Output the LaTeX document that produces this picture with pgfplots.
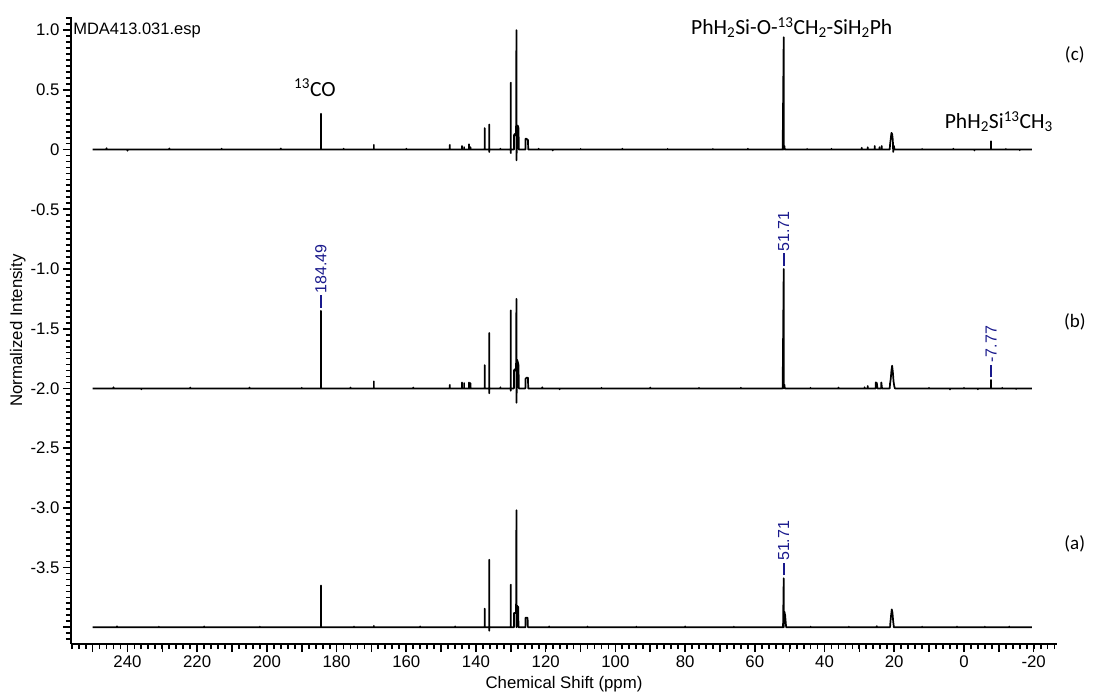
\documentclass[border=0pt]{standalone}
\usepackage{fontspec}
\setmainfont{Liberation Sans}
\newfontfamily\carlito{Carlito}
\usepackage{pgfplots}
\pgfplotsset{compat=1.18}
\usepackage{pgfplotstable}
\definecolor{labblue}{RGB}{25,25,140}

% spectrum (c), heights relative to its own baseline
\pgfplotstableread{
x y
250 0
246 0
246 0.012
246 0
240 0
240 -0.01
240 0
228 0
228 0.01
228 0
213 0
213 0.008
213 0
196 0
196 0.01
196 0
184.49 0
184.49 0.30
184.49 0
178 0
178 0.008
178 0
169.3 0
169.3 0.04
169.3 0
160 0
160 0.008
160 0
147.5 0
147.5 0.04
147.5 0
144.0 0
144.0 0.03
144.0 0
143.4 0
143.4 0.02
143.4 0
142.0 0
142.0 0.045
142.0 0
141.6 0
141.6 0.02
141.6 0
137.5 0
137.5 0.18
137.5 0
136.2 0
136.2 0.21
136.2 -0.02
136.2 0
133 0
133 0.008
133 0
130.0 0
130.0 0.56
130.0 -0.03
130.0 0
129.1 0
129.1 0.12
128.9 0.13
128.7 0.12
128.5 0.12
128.4 1.0
128.4 -0.09
128.3 0
128.2 0.20
128.0 0.20
127.8 0.18
127.7 0
125.8 0
125.8 0.09
125.5 0.09
125.1 0.08
125.0 0
122 0
122 0.008
122 0
118 0
118 -0.008
118 0
110 0
110 0.006
110 0
98 0
98 0.008
98 0
85 0
85 0.006
85 0
72 0
72 0.006
72 0
62 0
62 0.008
62 0
52.0 0
52.0 0.03
51.71 0.94
51.71 0
51.5 0.03
51.4 0
45 0
45 0.006
45 0
38 0
38 0.008
38 0
29.3 0
29.3 0.015
29.3 0
27.6 0
27.6 0.02
27.6 0
25.6 0
25.6 0.03
25.6 0
24.2 0
24.2 0.02
24.2 0
23.6 0
23.6 0.03
23.6 0
21.3 0
21.2 0.04
21.0 0.09
20.8 0.14
20.6 0.13
20.4 0.08
20.3 -0.02
20.1 0.03
19.9 0
12 0
12 0.006
12 0
3 0
3 0.008
3 0
-3 0
-3 -0.008
-3 0
-7.77 0
-7.77 0.07
-7.77 0
-12 0
-12 0.006
-12 0
-16 0
-16 -0.006
-16 0
-19.5 0
}\specc

% spectrum (b)
\pgfplotstableread{
x y
250 0
244 0
244 0.01
244 0
236 0
236 -0.008
236 0
222 0
222 0.008
222 0
205 0
205 0.008
205 0
190 0
190 0.006
190 0
184.49 0
184.49 0.65
184.49 0
176 0
176 0.008
176 0
169.3 0
169.3 0.06
169.3 0
158 0
158 0.008
158 0
147.5 0
147.5 0.03
147.5 0
144.0 0
144.0 0.05
144.0 0
143.4 0
143.4 0.045
143.4 0
142.0 0
142.0 0.05
142.0 0
141.6 0
141.6 0.045
141.6 0
137.5 0
137.5 0.195
137.5 0
136.2 0
136.2 0.465
136.2 -0.04
136.2 0
133 0
133 0.01
133 0
130.0 0
130.0 0.654
130.0 -0.02
130.0 0
129.1 0
129.1 0.15
128.9 0.16
128.7 0.15
128.5 0.16
128.4 0.75
128.4 -0.12
128.3 0
128.2 0.24
128.0 0.22
127.8 0.195
127.7 0
125.8 0
125.8 0.08
125.5 0.09
125.1 0.09
125.0 0
121 0
121 0.01
121 0
116 0
116 -0.008
116 0
104 0
104 0.006
104 0
90 0
90 0.008
90 0
76 0
76 0.006
76 0
64 0
64 0.006
64 0
52.0 0
52.0 0.04
51.71 1.0
51.71 0
51.5 0.03
51.4 0
44 0
44 0.006
44 0
36 0
36 0.008
36 0
28.5 0
28.5 0.01
28.5 0
27.6 0
27.6 0.02
27.6 0
25.3 0
25.3 0.05
25.0 0.045
24.8 0
23.7 0
23.7 0.05
23.5 0
21.3 0
21.2 0.04
21.0 0.08
20.8 0.15
20.6 0.19
20.4 0.14
20.2 0.06
20.0 0.02
19.8 0
10 0
10 0.006
10 0
4 0
4 -0.01
4 0
0 0
0 0.006
0 0
-4 0
-4 -0.008
-4 0
-7.77 0
-7.77 0.07
-7.77 0
-11 0
-11 0.006
-11 0
-15 0
-15 -0.006
-15 0
-19.5 0
}\specb

% spectrum (a)
\pgfplotstableread{
x y
250 0
243 0
243 0.008
243 0
231 0
231 0.006
231 0
218 0
218 0.008
218 0
202 0
202 0.006
202 0
184.49 0
184.49 0.35
184.49 0
175 0
175 0.006
175 0
169.3 0
169.3 0.012
169.3 0
156 0
156 0.008
156 0
146 0
146 0.008
146 0
137.5 0
137.5 0.156
137.5 0
136.2 0
136.2 0.565
136.2 -0.03
136.2 0
130.0 0
130.0 0.357
130.0 0
129.1 0
129.1 0.12
128.8 0.12
128.5 0.12
128.4 0.98
128.4 0
128.2 0.18
127.9 0.17
127.8 0
125.8 0
125.8 0.08
125.2 0.08
125.1 0
119 0
119 0.008
119 0
108 0
108 0.006
108 0
94 0
94 0.006
94 0
80 0
80 0.008
80 0
66 0
66 0.006
66 0
51.9 0
51.71 0.41
51.71 0
51.5 0.13
51.3 0.10
51.1 0.03
51.0 0
44 0
44 0.006
44 0
33 0
33 0.006
33 0
25 0
25 0.01
25 0
21.2 0
21.1 0.04
20.9 0.10
20.7 0.15
20.5 0.12
20.3 0.05
20.1 0
12 0
12 0.006
12 0
2 0
2 0.006
2 0
-6 0
-6 0.006
-6 0
-13 0
-13 0.006
-13 0
-19.5 0
}\speca

\begin{document}
\begin{tikzpicture}
\useasboundingbox (0,0) rectangle (1095bp,693bp);
\begin{axis}[
  at={(71bp,49bp)}, anchor=south west,
  scale only axis, width=986bp, height=627bp,
  x dir=reverse,
  xmin=-26.7, xmax=256.2, ymin=-4.14, ymax=1.11,
  axis x line*=bottom, axis y line*=left,
  axis line style={line width=1.8bp, black},
  clip=false,
  tick align=outside,
  major tick length=8bp, minor tick length=5bp,
  major tick style={line width=1.6bp, black},
  minor tick style={line width=1.8bp, black},
  xtick={-20,0,20,40,60,80,100,120,140,160,180,200,220,240},
  xticklabels={-20,0,20,40,60,80,100,120,140,160,180,200,220,240},
  extra x ticks={-10,10,30,50,70,90,110,130,150,170,190,210,230,250},
  extra x tick labels={},
  extra x tick style={major tick style={line width=1.6bp, black}},
  minor xtick={-26,-24,...,256},
  ytick={-4,-3.5,-3,-2.5,-2,-1.5,-1,-0.5,0,0.5,1},
  yticklabels={,-3.5,-3.0,-2.5,-2.0,-1.5,-1.0,-0.5,0,0.5,1.0},
  minor ytick={-4.1,-4.05,...,1.1},
  tick label style={font=\fontsize{16.8bp}{19bp}\selectfont},
  xlabel={Chemical Shift (ppm)},
  ylabel={Normalized Intensity},
  label style={font=\fontsize{16.8bp}{19bp}\selectfont},
  xlabel style={at={(axis description cs:0.5,-0.064)}, anchor=center},
  ylabel style={at={(axis description cs:-0.054,0.5)}, anchor=center},
]
\addplot[black, line width=1.7bp, line join=round] table[x=x, y=y] {\specc};
\addplot[black, line width=1.7bp, line join=round] table[x=x, y expr=\thisrow{y}-2] {\specb};
\addplot[black, line width=1.7bp, line join=round] table[x=x, y expr=\thisrow{y}-4] {\speca};

% file name
\node[anchor=west, inner sep=0pt, font=\fontsize{16.5bp}{19bp}\selectfont] at (axis cs:255.6,1.0) {MDA413.031.esp};

% compound annotations
\node[font=\carlito\fontsize{21.6bp}{25bp}\selectfont] at (axis cs:186.2,0.52) {\textsuperscript{13}CO};
\node[font=\carlito\fontsize{21.6bp}{25bp}\selectfont] at (axis cs:49.4,1.02) {PhH\textsubscript{2}Si-O-\textsuperscript{13}CH\textsubscript{2}-SiH\textsubscript{2}Ph};
\node[font=\carlito\fontsize{21.6bp}{25bp}\selectfont] at (axis cs:-10.0,0.234) {PhH\textsubscript{2}Si\textsuperscript{13}CH\textsubscript{3}};

% spectrum letters
\node[font=\carlito\fontsize{19bp}{22bp}\selectfont] at (axis cs:-31.8,0.79) {(c)};
\node[font=\carlito\fontsize{19bp}{22bp}\selectfont] at (axis cs:-31.8,-1.445) {(b)};
\node[font=\carlito\fontsize{19bp}{22bp}\selectfont] at (axis cs:-31.8,-3.30) {(a)};

% peak labels
\draw[labblue, line width=1.6bp] (axis cs:184.49,-1.325) -- (axis cs:184.49,-1.22);
\node[labblue, rotate=90, anchor=west, inner sep=0pt, font=\fontsize{16bp}{19bp}\selectfont] at (axis cs:184.49,-1.205) {184.49};
\draw[labblue, line width=1.6bp] (axis cs:51.71,-0.975) -- (axis cs:51.71,-0.87);
\node[labblue, rotate=90, anchor=west, inner sep=0pt, font=\fontsize{16bp}{19bp}\selectfont] at (axis cs:51.71,-0.855) {51.71};
\draw[labblue, line width=1.6bp] (axis cs:-7.77,-1.905) -- (axis cs:-7.77,-1.80);
\node[labblue, rotate=90, anchor=west, inner sep=0pt, font=\fontsize{16bp}{19bp}\selectfont] at (axis cs:-7.77,-1.785) {-7.77};
\draw[labblue, line width=1.6bp] (axis cs:51.71,-3.565) -- (axis cs:51.71,-3.46);
\node[labblue, rotate=90, anchor=west, inner sep=0pt, font=\fontsize{16bp}{19bp}\selectfont] at (axis cs:51.71,-3.445) {51.71};
\end{axis}
\end{tikzpicture}
\end{document}
